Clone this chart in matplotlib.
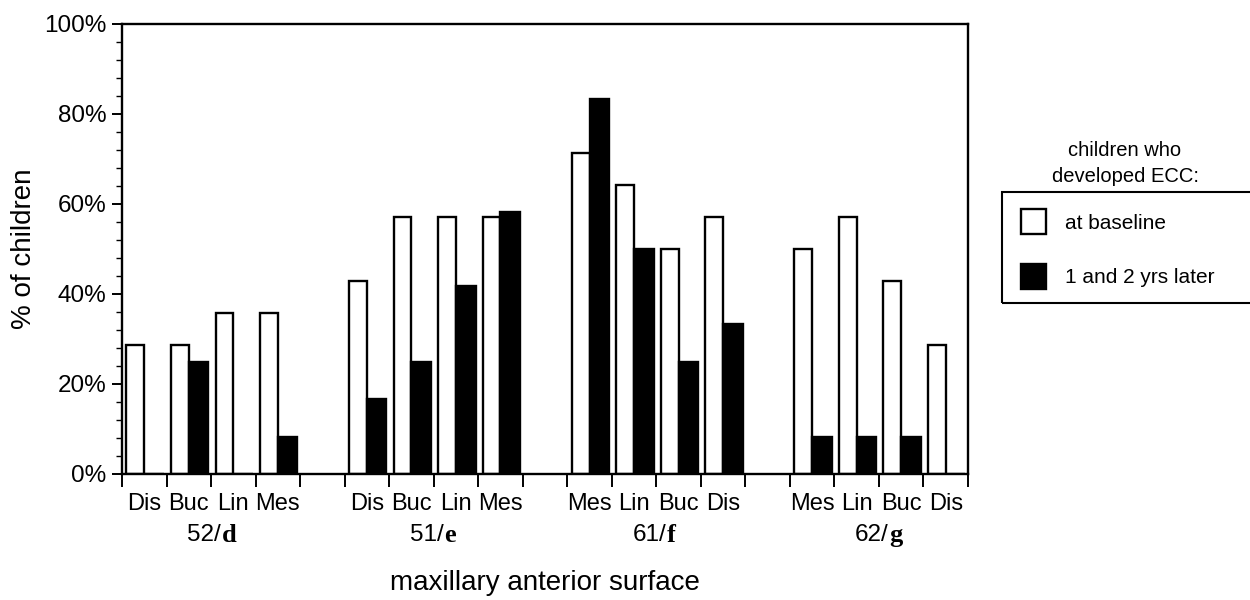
import matplotlib
matplotlib.use("Agg")
import matplotlib.pyplot as plt
from matplotlib.patches import Rectangle
from matplotlib.ticker import MultipleLocator, FixedLocator, NullFormatter, FixedFormatter, PercentFormatter

plt.rcParams['font.family'] = ['Liberation Sans', 'DejaVu Sans']

# ---- data ----
teeth = ["52", "51", "61", "62"]
tooth_letters = ["d", "e", "f", "g"]
surfaces_52 = ["Dis", "Buc", "Lin", "Mes"]
surfaces_51 = ["Dis", "Buc", "Lin", "Mes"]
surfaces_61 = ["Mes", "Lin", "Buc", "Dis"]
surfaces_62 = ["Mes", "Lin", "Buc", "Dis"]
baseline_52 = [28.6, 28.6, 35.7, 35.7]
baseline_51 = [42.9, 57.1, 57.1, 57.1]
baseline_61 = [71.4, 64.3, 50.0, 57.1]
baseline_62 = [50.0, 57.1, 42.9, 28.6]
later_52 = [0.0, 25.0, 0.0, 8.3]
later_51 = [16.7, 25.0, 41.7, 58.3]
later_61 = [83.3, 50.0, 25.0, 33.3]
later_62 = [8.3, 8.3, 8.3, 0.0]

surfaces = [surfaces_52, surfaces_51, surfaces_61, surfaces_62]
baseline = [baseline_52, baseline_51, baseline_61, baseline_62]
later = [later_52, later_51, later_61, later_62]

fig = plt.figure(figsize=(12.5, 6), dpi=100)
ax = fig.add_axes([122/1250, 1-474/600, (968-122)/1250, 450/600])

xpos, labels, base_vals, later_vals, group_centers = [], [], [], [], []
slot = 0
for g in range(4):
    start = slot
    for s in range(4):
        xpos.append(slot)
        labels.append(surfaces[g][s])
        base_vals.append(baseline[g][s])
        later_vals.append(later[g][s])
        slot += 1
    group_centers.append((start + slot - 1) / 2)
    slot += 1  # gap slot

lw = 1.7
wb = 0.40
wl = 0.44
bars_base = ax.bar([x - wb for x in xpos], base_vals, width=wb, align='edge',
                   facecolor='white', edgecolor='black', linewidth=lw, zorder=2)
bars_later = ax.bar(xpos, later_vals, width=wl, align='edge',
                    facecolor='black', edgecolor='black', linewidth=lw, zorder=3)

ax.set_xlim(-0.5, 18.5)
ax.set_ylim(0, 100)

for sp in ax.spines.values():
    sp.set_linewidth(1.7)

# x ticks: boundaries (major, no labels), centers (minor, labels)
ax.xaxis.set_major_locator(FixedLocator([i - 0.5 for i in range(20)]))
ax.xaxis.set_major_formatter(NullFormatter())
ax.xaxis.set_minor_locator(FixedLocator(xpos))
ax.xaxis.set_minor_formatter(FixedFormatter(labels))
ax.tick_params(axis='x', which='major', direction='out', length=9, width=1.4)
ax.tick_params(axis='x', which='minor', length=0, pad=14, labelsize=17)

ax.yaxis.set_major_locator(MultipleLocator(20))
ax.yaxis.set_minor_locator(MultipleLocator(4))
ax.yaxis.set_major_formatter(PercentFormatter(decimals=0))
ax.tick_params(axis='y', which='major', direction='out', length=7, width=1.4, labelsize=17.5, pad=4)
ax.tick_params(axis='y', which='minor', direction='out', length=4, width=1.0)

xt = ax.get_xaxis_transform()
for gc, t, l in zip(group_centers, teeth, tooth_letters):
    cx = gc + 0.22
    ax.text(cx, -0.136, t + "/", transform=xt, ha='right', va='center', fontsize=17.5,
            family='Liberation Sans')
    ax.text(cx + 0.02, -0.136, l, transform=xt, ha='left', va='center', fontsize=19,
            family='Liberation Serif', weight='bold')

ax.set_ylabel("% of children", fontsize=20, labelpad=5)
fig.text(545/1250, 1 - 583/600, "maxillary anterior surface", ha='center', va='center', fontsize=20)

# legend
fig.text(1125/1250, 1 - 150/600, "children who", ha='center', va='center', fontsize=14.5)
fig.text(1125/1250, 1 - 177/600, "developed ECC:", ha='center', va='center', fontsize=14.5)
fig.patches.append(Rectangle((1002/1250, 1 - 303/600), 260/1250, 111/600, transform=fig.transFigure,
                             facecolor='none', edgecolor='black', linewidth=1.5))
leg = fig.legend([bars_base, bars_later], ["at baseline", "1 and 2 yrs later"],
                 loc='upper left', bbox_to_anchor=(1021/1250, 1 - 209/600),
                 frameon=False, fontsize=15, handlelength=1.2, handleheight=1.5,
                 handletextpad=0.9, labelspacing=1.4, borderpad=0, borderaxespad=0)

fig.savefig("out.png", dpi=100)
